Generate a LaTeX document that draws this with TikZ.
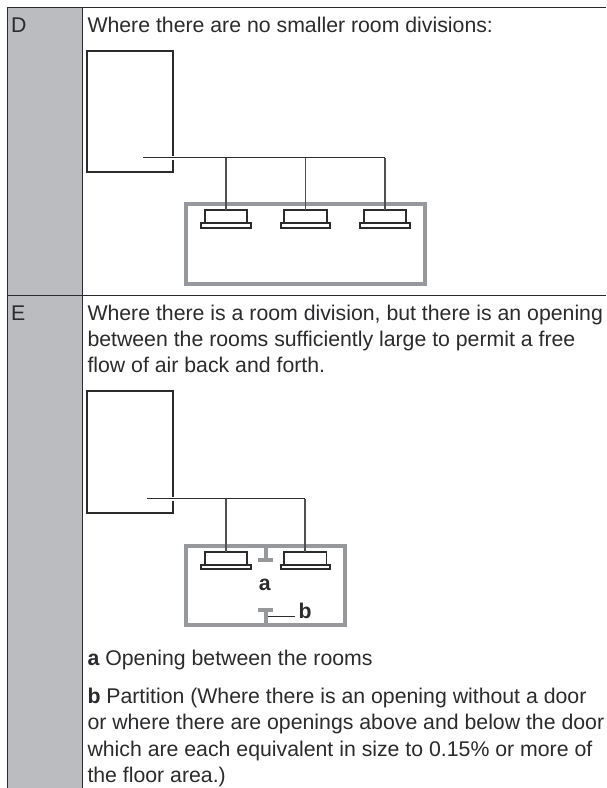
\documentclass[tikz,border=0pt]{standalone}
\usepackage{fontspec}
\setmainfont{Liberation Sans}
\definecolor{ink}{HTML}{2B2B2D}
\definecolor{pipegray}{HTML}{505052}
\definecolor{wallgray}{HTML}{97989B}
\definecolor{bandgray}{HTML}{BBBCC0}
\tikzset{
  txt/.style={anchor=base west,inner sep=0pt,outer sep=0pt,text=ink,font=\fontsize{21.27}{26}\selectfont},
  lab/.style={inner sep=0pt,outer sep=0pt,text=ink,font=\fontsize{21.27}{26}\selectfont\bfseries},
  rule/.style={draw=ink,line width=1pt},
  boxline/.style={draw=ink,line width=1.9pt},
  pipe/.style={draw=ink,line width=1pt},
  drop/.style={draw=pipegray,line width=1.9pt},
  halo/.style={draw=white,line width=4pt},
  wall/.style={draw=wallgray,line width=4pt},
  partition/.style={draw=wallgray,line width=4pt},
  unitbox/.style={draw=ink,line width=1.9pt,fill=white,inner sep=0pt,outer sep=0pt}
}
\begin{document}
\begin{tikzpicture}[x=1pt,y=-1pt]
\useasboundingbox (0,0) rectangle (606,788);
\fill[white] (0,0) rectangle (606,788);
\fill[bandgray] (7,7.5) rectangle (82.3,788);
\draw[rule] (7,788) -- (7,7.5) -- (606,7.5);
\draw[rule] (82.3,7.5) -- (82.3,788);
\draw[rule] (7,295.2) -- (606,295.2);
\node[txt] (labD) at (11,32) {D};
\node[txt] (labE) at (11,320) {E};
\node[txt] (t1) at (87.5,32) {Where there are no smaller room divisions:};
\node[txt] (t2) at (87.5,320) {Where there is a room division, but there is an opening};
\node[txt] (t3) at (87.5,346.3) {between the rooms sufficiently large to permit a free};
\node[txt] (t4) at (87.5,372.7) {flow of air back and forth.};
\node[txt] (t5) at (87.5,665) {\textbf{a} Opening between the rooms};
\node[txt] (t6) at (87.5,703.3) {\textbf{b} Partition (Where there is an opening without a door};
\node[txt] (t7) at (87.5,729.7) {or where there are openings above and below the door};
\node[txt] (t8) at (87.5,756.2) {which are each equivalent in size to 0.15\% or more of};
\node[txt] (t9) at (87.5,782.5) {the floor area.)};
% D diagram
\node[boxline,fill=white,minimum width=85.4pt,minimum height=121.3pt,inner sep=0pt,outer sep=0pt] (boxD) at (130,111.3) {};
\draw[wall] (186.4,204.2) rectangle (425,283.5);
\coordinate (startD) at (143,157.5);
\coordinate (cornerD) at (385,157.5);
\foreach \n/\cx in {a/226,b/305.5,c/385}{
  \node[unitbox,minimum width=42.3pt,minimum height=13.3pt] (u\n) at (\cx,216.7) {};
  \node[unitbox,minimum width=49.5pt,minimum height=4.4pt] at (\cx,225.6) {};
}
\draw[halo] (boxD.east |- startD) ++(-1,0) -- ++(2,0);
\draw[pipe] (startD) -- (cornerD);
\draw[drop] (cornerD) -- (uc.north);
\draw[drop] (ua.north |- startD) -- (ua.north);
\draw[drop] (ub.north |- startD) -- (ub.north);
% E diagram
\node[boxline,fill=white,minimum width=85.4pt,minimum height=121.3pt,inner sep=0pt,outer sep=0pt] (boxE) at (130,452) {};
\draw[wall] (186.4,545.5) rectangle (345.3,624.5);
\draw[partition] (265.5,547) -- (265.5,560);
\draw[partition] (258.3,560.3) -- (273.3,560.3);
\draw[partition] (265.5,623) -- (265.5,610);
\draw[partition] (258.3,610.2) -- (273.3,610.2);
\coordinate (startE) at (146.7,498.7);
\coordinate (cornerE) at (305.3,498.7);
\foreach \n/\cx in {d/226,e/305.3}{
  \node[unitbox,minimum width=42.3pt,minimum height=13.3pt] (u\n) at (\cx,558.4) {};
  \node[unitbox,minimum width=49.5pt,minimum height=4.4pt] at (\cx,567.2) {};
}
\draw[halo] (boxE.east |- startE) ++(-1,0) -- ++(2,0);
\draw[pipe] (startE) -- (cornerE);
\draw[drop] (cornerE) -- (ue.north);
\draw[drop] (ud.north |- startE) -- (ud.north);
\node[lab,anchor=base] (a) at (264.7,590.7) {a};
\node[lab,anchor=base west] (b) at (298.5,618.7) {b};
\coordinate (bstart) at (267.5,616);
\coordinate (bend) at (295,616);
\draw[draw=ink,line width=0.9pt] (bstart) -- (bend);
\end{tikzpicture}
\end{document}
